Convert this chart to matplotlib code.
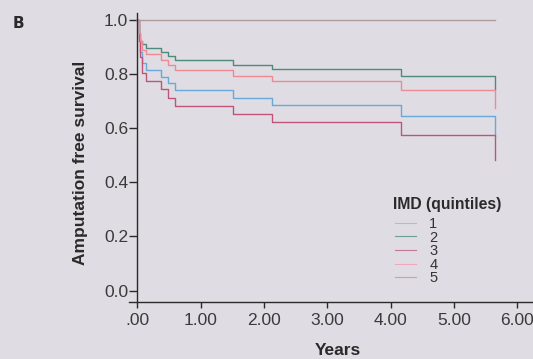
import matplotlib.pyplot as plt

# Kaplan-Meier style step data (years, survival)
times = [0.0, 0.02, 0.045, 0.07, 0.14, 0.37, 0.48, 0.59, 1.51, 2.13, 4.17, 5.65]
surv_1 = [1.0, 0.93, 0.88, 0.840, 0.813, 0.789, 0.764, 0.739, 0.711, 0.684, 0.643, 0.569]
surv_2 = [1.0, 0.95, 0.92, 0.908, 0.896, 0.881, 0.867, 0.850, 0.834, 0.818, 0.791, 0.742]
surv_3 = [1.0, 0.92, 0.86, 0.803, 0.772, 0.742, 0.711, 0.680, 0.652, 0.623, 0.573, 0.483]
surv_4 = [1.0, 0.95, 0.92, 0.887, 0.871, 0.850, 0.831, 0.812, 0.793, 0.775, 0.741, 0.674]
times_5 = [0.0, 5.65]
surv_5 = [1.0, 1.0]

labels = ['1', '2', '3', '4', '5']
colors = ['#69a8d8', '#4f8a7a', '#bf5479', '#f08a92', '#b39a9a']
legend_colors = ['#9cc4e0', '#6e9e92', '#c07890', '#f0a8b4', '#c4a4a4']

bg = '#dfdde3'
font = 'Liberation Sans'

fig = plt.figure(figsize=(5.33, 3.59), dpi=100, facecolor=bg)
ax = fig.add_axes([0.2422, 0.158, 0.7578, 0.805])
ax.set_facecolor(bg)

series = [(times, surv_1), (times, surv_2), (times, surv_3), (times, surv_4), (times_5, surv_5)]
for (t, s), c in zip(series, colors):
    ax.step(t, s, where='post', color=c, lw=1.0)

ax.set_xlim(-0.13, 6.25)
ax.set_ylim(-0.043, 1.023)

ax.spines['top'].set_visible(False)
ax.spines['right'].set_visible(False)
ax.spines['left'].set_position(('data', 0))
for sp in ['left', 'bottom']:
    ax.spines[sp].set_color('#2a2a2a')
    ax.spines[sp].set_linewidth(1.0)

xticks = [0, 1, 2, 3, 4, 5, 6]
xticklabels = ['.00', '1.00', '2.00', '3.00', '4.00', '5.00', '6.00']
yticks = [0.0, 0.2, 0.4, 0.6, 0.8, 1.0]
yticklabels = ['0.0', '0.2', '0.4', '0.6', '0.8', '1.0']
ax.set_xticks(xticks)
ax.set_xticklabels(xticklabels, family=font, fontsize=12.5, color='#3a3a3a')
ax.set_yticks(yticks)
ax.set_yticklabels(yticklabels, family=font, fontsize=12.5, color='#3a3a3a')
ax.tick_params(axis='x', length=4.5, width=1.0, color='#2a2a2a', pad=3)
ax.tick_params(axis='y', length=5.5, width=1.0, color='#2a2a2a', pad=1)

ax.set_xlabel('Years', family=font, fontsize=12.5, fontweight='bold', color='#2a2a2a')
ax.xaxis.set_label_coords(0.517, -0.14)
ax.set_ylabel('Amputation free survival', family=font, fontsize=12.5, fontweight='bold',
              color='#2a2a2a')
ax.yaxis.set_label_coords(-0.101, 0.484)

fig.text(0.024, 0.922, 'B', family='DejaVu Sans', fontsize=11, fontweight='bold',
         color='#2a2a2a', va='baseline')

# legend title placed on its own, entries below it
fig.text(393 / 533, 1 - 205 / 359, 'IMD (quintiles)', family=font, fontsize=11.3,
         fontweight='bold', color='#2a2a2a', va='center')
handles = [plt.Line2D([], [], color=c, lw=0.8) for c in legend_colors]
leg = ax.legend(handles, labels, loc='upper left',
                bbox_to_anchor=(395 / 533, 1 - 217 / 359), bbox_transform=fig.transFigure,
                frameon=False, prop={'family': font, 'size': 10.5}, labelspacing=-0.03,
                handlelength=1.45, handletextpad=0.9, borderpad=0, borderaxespad=0)
for txt in leg.get_texts():
    txt.set_color('#333333')

fig.savefig('out.png', dpi=100, facecolor=bg)
